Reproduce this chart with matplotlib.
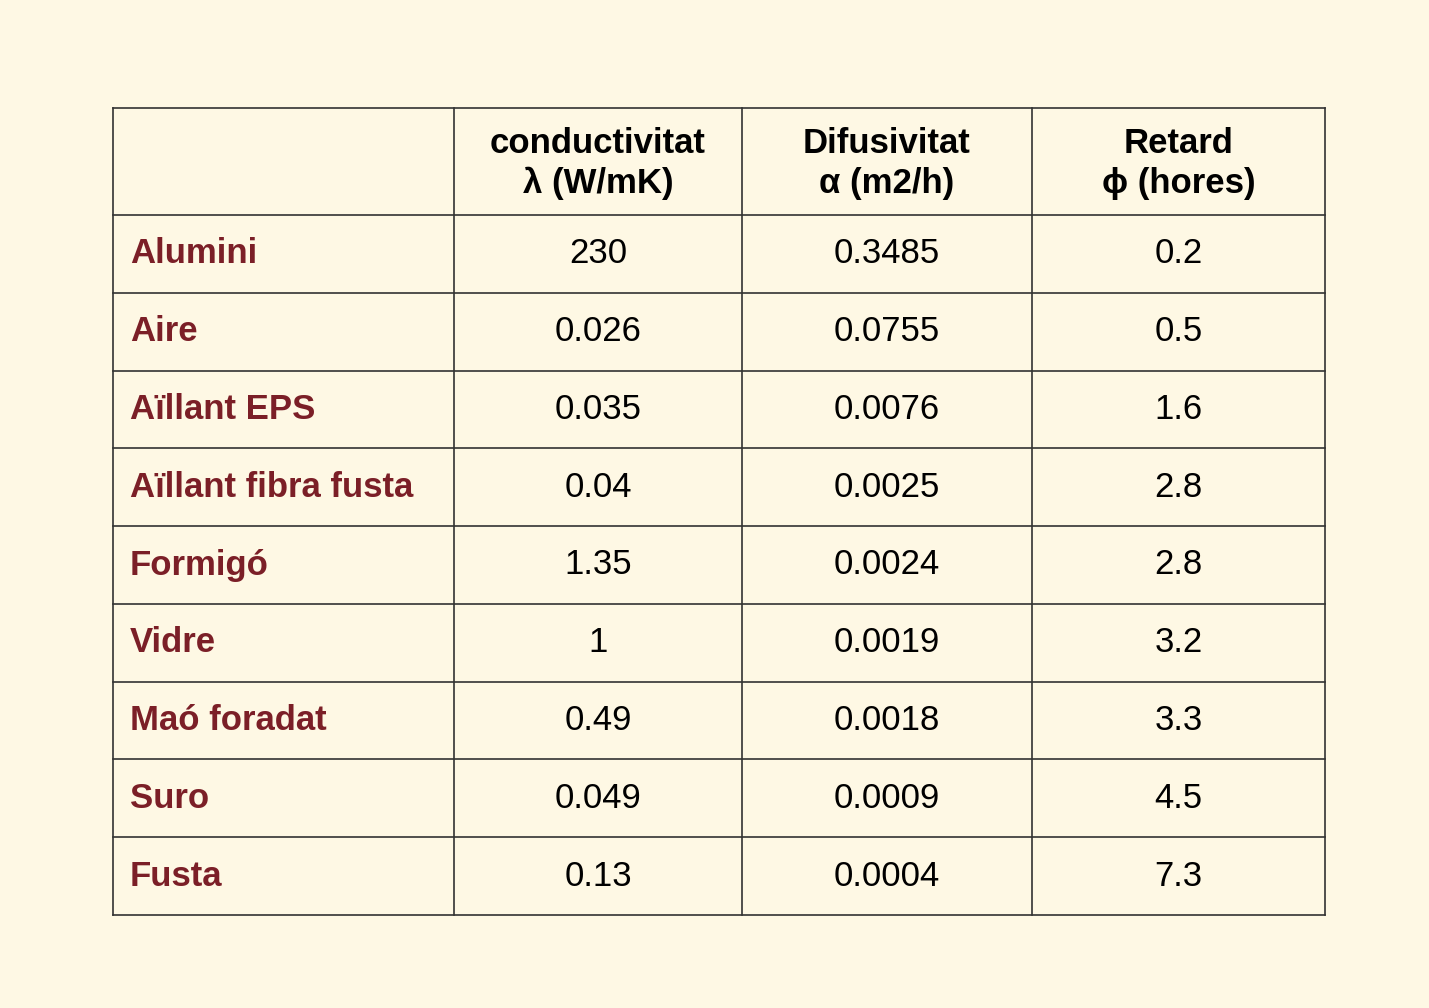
import matplotlib.pyplot as plt

materials = ["Alumini", "Aire", "Aïllant EPS", "Aïllant fibra fusta", "Formigó",
             "Vidre", "Maó foradat", "Suro", "Fusta"]
conductivitat = ["230", "0.026", "0.035", "0.04", "1.35", "1", "0.49", "0.049", "0.13"]
difusivitat = ["0.3485", "0.0755", "0.0076", "0.0025", "0.0024", "0.0019", "0.0018", "0.0009", "0.0004"]
retard = ["0.2", "0.5", "1.6", "2.8", "2.8", "3.2", "3.3", "4.5", "7.3"]
headers = ["conductivitat\nλ (W/mK)", "Difusivitat\nα (m2/h)", "Retard\nϕ (hores)"]

bg = "#FEF8E4"
red = "#7B1F27"
font = ["Liberation Sans", "DejaVu Sans"]

fig = plt.figure(figsize=(14.29, 10.08), dpi=100, facecolor=bg)
ax = fig.add_axes([0, 0, 1, 1])
ax.set_xlim(0, 1429)
ax.set_ylim(1008, 0)
ax.axis("off")

cols = [113, 454, 742, 1032, 1325]
top, head_bottom, bottom = 108, 215, 915
n = len(materials)
row_h = (bottom - head_bottom) / n
rows = [head_bottom + i * row_h for i in range(n + 1)]

# grid lines
for x in cols:
    ax.plot([x, x], [top, bottom], color="#333333", lw=1.2)
for y in [top] + rows:
    ax.plot([cols[0], cols[-1]], [y, y], color="#333333", lw=1.2)

# headers
for j, h in enumerate(headers):
    cx = (cols[j + 1] + cols[j + 2]) / 2
    ax.text(cx, (top + head_bottom) / 2 + 2, h, ha="center", va="center",
            fontsize=25, fontweight="bold", family=font, linespacing=1.25)

# body
for i in range(n):
    cy = (rows[i] + rows[i + 1]) / 2
    ax.text(cols[0] + 17, cy, materials[i], ha="left", va="center",
            fontsize=25, fontweight="bold", color=red, family=font)
    for j, vals in enumerate([conductivitat, difusivitat, retard]):
        cx = (cols[j + 1] + cols[j + 2]) / 2
        ax.text(cx, cy, vals[i], ha="center", va="center", fontsize=25, family=font)

fig.savefig("out.png", dpi=100, facecolor=bg)
